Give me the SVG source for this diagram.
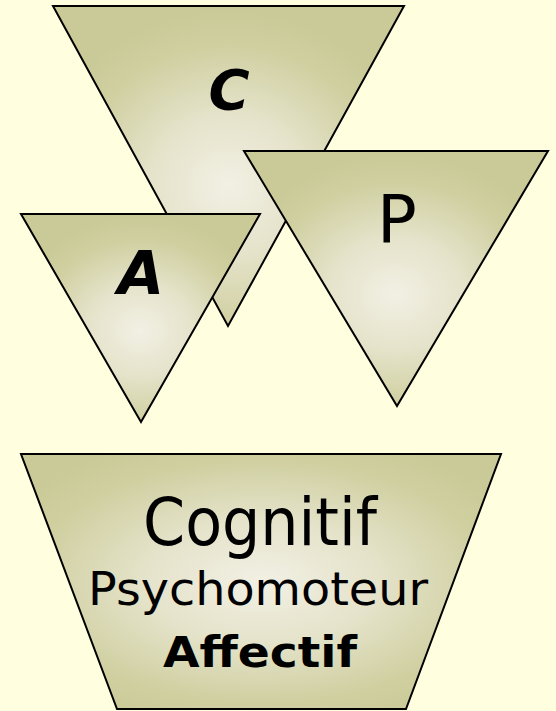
<svg xmlns="http://www.w3.org/2000/svg" width="556" height="711" viewBox="0 0 556 711">
<defs>
<radialGradient id="g" cx="0.5" cy="0.56" r="0.55">
<stop offset="0" stop-color="#F2F0E4"/>
<stop offset="0.4" stop-color="#E5E3CA"/>
<stop offset="0.8" stop-color="#CFCFA0"/>
<stop offset="1" stop-color="#CACA98"/>
</radialGradient>
<radialGradient id="gt" cx="0.5" cy="0.5" r="0.6">
<stop offset="0" stop-color="#F2F0E4"/>
<stop offset="0.4" stop-color="#E5E3CA"/>
<stop offset="0.8" stop-color="#CFCFA0"/>
<stop offset="1" stop-color="#CACA98"/>
</radialGradient>
<style>
.sh{fill:url(#g);stroke:#000;stroke-width:2;stroke-linejoin:miter}
.tz{fill:url(#gt);stroke:#000;stroke-width:2}
.t{font-family:"DejaVu Sans","Liberation Sans",sans-serif;fill:#000;text-anchor:middle}
</style>
</defs>
<rect width="556" height="711" fill="#FFFFE0"/>
<g id="nodeC">
<polygon class="sh" points="53,6 404,6 228,326"/>
<text class="t" x="229" y="109" font-size="56" font-weight="bold" font-style="italic">C</text>
</g>
<g id="nodeA">
<polygon class="sh" points="21,214 260,214 141,422"/>
<text class="t" x="141" y="294" font-size="60" font-weight="bold" font-style="italic">A</text>
</g>
<g id="nodeP">
<polygon class="sh" points="244,151 548,151 397,406"/>
<text class="t" x="397" y="242" font-size="66">P</text>
</g>
<g id="nodeDomaines">
<polygon class="tz" points="21,454 501,454 406,709 117,709"/>
<text class="t" x="260" y="545" font-size="66" textLength="234" lengthAdjust="spacingAndGlyphs">Cognitif</text>
<text class="t" x="258" y="605" font-size="46" textLength="340" lengthAdjust="spacingAndGlyphs">Psychomoteur</text>
<text class="t" x="260" y="667" font-size="42" font-weight="bold" textLength="194" lengthAdjust="spacingAndGlyphs">Affectif</text>
</g>
<g id="connectors"/>
</svg>
